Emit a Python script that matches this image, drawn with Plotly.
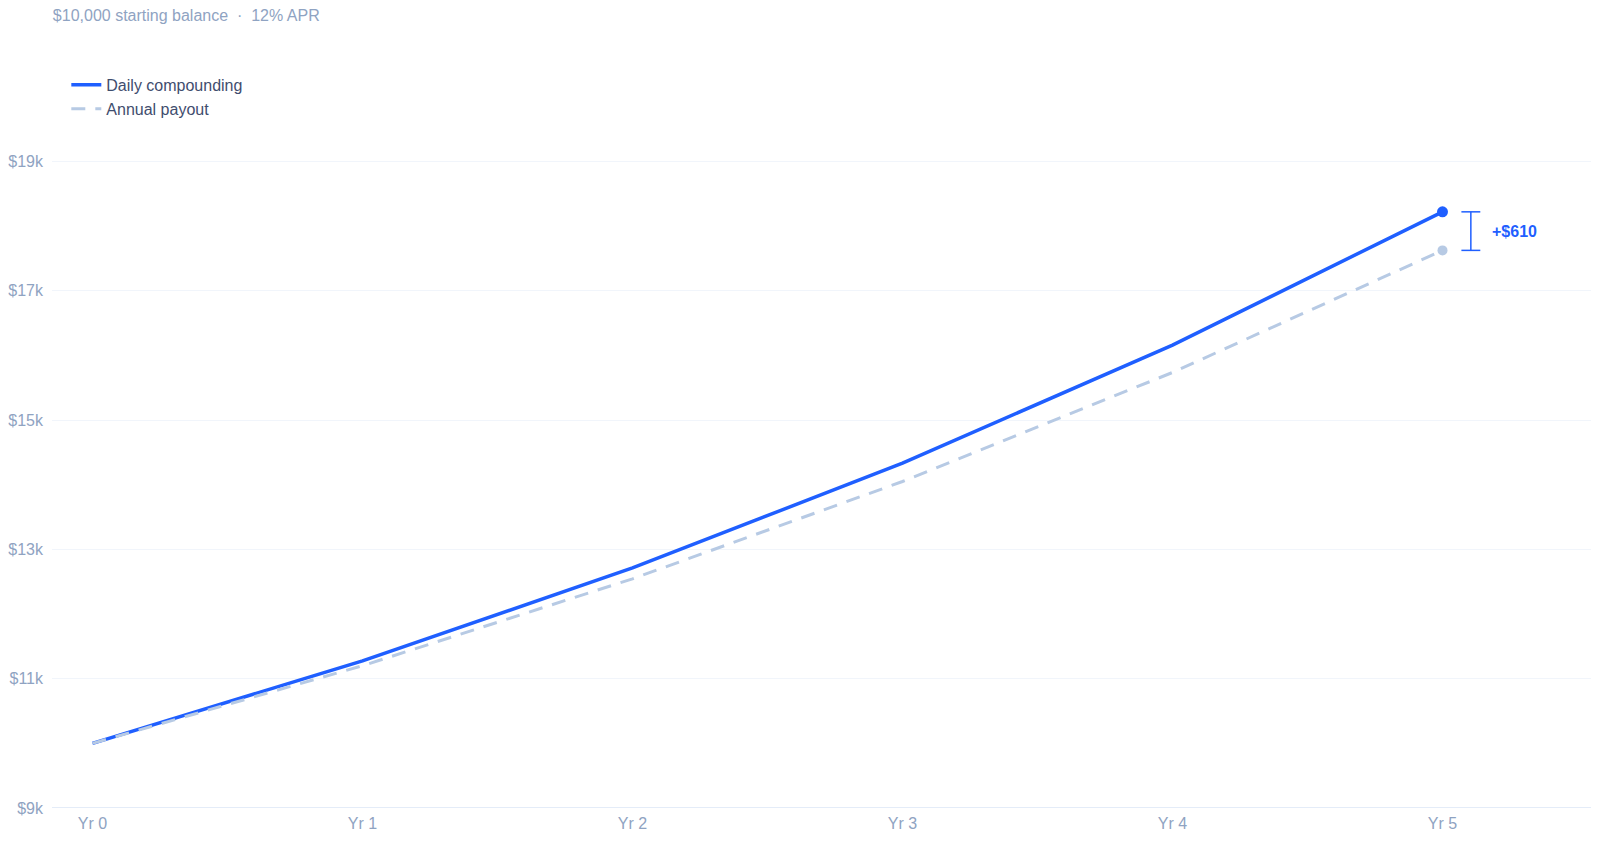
import plotly.graph_objects as go

# balances at each year mark
years = [0, 1, 2, 3, 4, 5]
year_labels = ["Yr 0", "Yr 1", "Yr 2", "Yr 3", "Yr 4", "Yr 5"]
daily = [10000, 11275, 12712, 14332, 16159, 18219]
annual = [10000, 11200, 12544, 14049, 15735, 17623]
gap_label = "+$610"

y_ticks = [9000, 11000, 13000, 15000, 17000, 19000]
y_tick_text = ["$9k", "$11k", "$13k", "$15k", "$17k", "$19k"]

BLUE = "#1f5fff"
PALE = "#b7cae4"
MUTED = "#8fa3c2"

# the page shows the figure at about 1569 x 828
FIG_W, FIG_H = 1569, 828

fig = go.Figure()

fig.add_trace(go.Scatter(x=years, y=daily, mode="lines", name="Daily compounding",
                         line=dict(color=BLUE, width=3.5)))
fig.add_trace(go.Scatter(x=years, y=annual, mode="lines", name="Annual payout",
                         line=dict(color=PALE, width=3, dash="14px,10px")))

# end dots
fig.add_trace(go.Scatter(x=[years[-1]], y=[daily[-1]], mode="markers", showlegend=False,
                         marker=dict(color=BLUE, size=11), hoverinfo="skip"))
fig.add_trace(go.Scatter(x=[years[-1]], y=[annual[-1]], mode="markers", showlegend=False,
                         marker=dict(color=PALE, size=10), hoverinfo="skip"))

# bracket showing the gap
bx = years[-1] + 0.105
cap = 0.035
fig.add_shape(type="line", x0=bx, x1=bx, y0=annual[-1], y1=daily[-1],
              line=dict(color=BLUE, width=1.5))
for yv in (annual[-1], daily[-1]):
    fig.add_shape(type="line", x0=bx - cap, x1=bx + cap, y0=yv, y1=yv,
                  line=dict(color=BLUE, width=1.5))
fig.add_annotation(x=bx + 0.07, y=(daily[-1] + annual[-1]) / 2, text="<b>" + gap_label + "</b>",
                   showarrow=False, xanchor="left", yanchor="middle",
                   font=dict(color=BLUE, size=16))

fig.update_layout(
    width=1600, height=841,
    paper_bgcolor="white", plot_bgcolor="white",
    font=dict(family="Liberation Sans, Arial, sans-serif", size=16, color=MUTED),
    margin=dict(l=44, r=17, t=121, b=41, autoexpand=False),
    title=dict(text="$10,000 starting balance  ·  12% APR", x=44 / FIG_W, xref="container",
               xanchor="left", y=1 - 7 / FIG_H, yref="container", yanchor="middle",
               font=dict(size=16, color=MUTED), automargin=False),
    legend=dict(x=0.0093, xref="paper", y=1 - 59 / FIG_H, yref="container",
                xanchor="left", yanchor="top",
                font=dict(size=16, color="#3f4d6e"), bgcolor="rgba(0,0,0,0)",
                itemwidth=30),
    showlegend=True,
    xaxis=dict(range=[-0.15, 5.55], tickvals=years, ticktext=year_labels,
               showgrid=False, zeroline=False, showline=False, automargin=False,
               tickfont=dict(size=16, color=MUTED), ticklabelstandoff=4),
    yaxis=dict(range=[9000, 19500], tickvals=y_ticks, ticktext=y_tick_text,
               showgrid=True, gridcolor="#f1f5fb", gridwidth=1, zeroline=False,
               showline=False, automargin=False,
               tickfont=dict(size=16, color=MUTED), ticklabelstandoff=8),
)

fig.add_shape(type="line", xref="paper", yref="y", x0=0, x1=1, y0=9000, y1=9000,
              line=dict(color="#dbe6f6", width=1.5), layer="below")

fig.write_html("out.html")
